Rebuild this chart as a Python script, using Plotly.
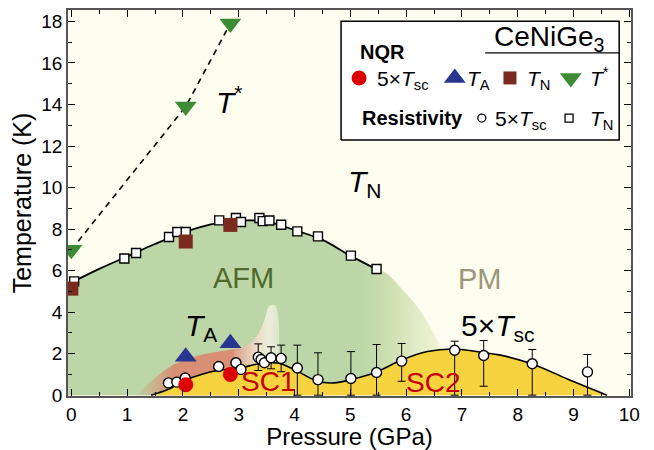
import plotly.graph_objects as go

# ---------------- data ----------------
# Resistivity T_N (open squares)
res_tn_p = [0.05, 0.95, 1.16, 1.75, 1.90, 2.05, 2.65, 2.95, 3.04, 3.37, 3.43, 3.55, 3.76, 4.05, 4.42, 5.01, 5.47]
res_tn_t = [5.48, 6.58, 6.85, 7.62, 7.86, 7.86, 8.42, 8.53, 8.34, 8.53, 8.38, 8.41, 8.21, 7.89, 7.65, 6.72, 6.08]

# Resistivity 5 x Tsc (open circles) with asymmetric error bars
res_tsc_p = [1.74, 1.89, 2.04, 2.64, 2.95, 3.04, 3.35, 3.40, 3.46, 3.58, 3.76, 4.05, 4.42, 5.01, 5.47, 5.92, 6.87, 7.39, 8.26, 9.25]
res_tsc_t = [0.59, 0.63, 0.83, 1.38, 1.56, 1.24, 1.83, 1.72, 1.56, 1.80, 1.77, 1.31, 0.75, 0.80, 1.09, 1.64, 2.16, 1.91, 1.51, 1.12]
res_tsc_up = [0, 0, 0, 0.1, 0, 0, 0.64, 0, 0, 0.53, 0.64, 1.10, 1.29, 1.30, 1.35, 0.85, 0.44, 0.72, 0.69, 0.84]
res_tsc_dn = [0, 0, 0, 0.1, 0, 0, 0.64, 0, 0, 0.53, 0.64, 1.31, 0.75, 0.80, 1.09, 0.97, 2.16, 1.48, 1.51, 1.12]

# NQR
nqr_tsc_p = [2.05, 2.85]
nqr_tsc_t = [0.5, 1.0]
nqr_ta_p = [2.05, 2.85]
nqr_ta_t = [1.85, 2.5]
nqr_tn_p = [0.0, 2.05, 2.85]
nqr_tn_t = [5.13, 7.4, 8.2]
nqr_tstar_p = [0.0, 2.05, 2.85]
nqr_tstar_t = [7.0, 13.9, 17.9]

# Guide curves / region boundaries
tn_curve_p = [0.0, 0.5, 1.0, 1.5, 2.0, 2.5, 3.0, 3.5, 4.0, 4.5, 5.0, 5.47]
tn_curve_t = [5.42, 6.08, 6.68, 7.28, 7.82, 8.22, 8.41, 8.36, 7.95, 7.48, 6.72, 6.06]
afm_edge_p = [5.64, 5.96, 6.26, 6.47, 6.62, 6.72]
afm_edge_t = [5.88, 5.0, 4.04, 3.08, 2.28, 1.2]
ta_region_p = [1.15, 1.4, 1.6, 1.8, 2.0, 2.3, 2.6, 2.95]
ta_region_t = [0.0, 0.6, 1.05, 1.42, 1.66, 1.92, 2.08, 2.22]
stripe_p = [2.92, 3.1, 3.25, 3.38, 3.47, 3.55, 3.66, 3.68]
stripe_t = [2.2, 2.35, 2.6, 3.1, 3.7, 4.3, 4.3, 0.0]
sc_curve_p = [1.43, 1.73, 2.06, 2.33, 2.62, 3.04, 3.31, 3.70, 4.05, 4.41, 4.71, 5.01, 5.47, 5.92, 6.38, 6.87, 7.39, 7.69, 8.26, 8.89, 9.6]
sc_curve_t = [0.0, 0.27, 0.75, 1.0, 1.19, 1.31, 1.49, 1.55, 1.15, 0.67, 0.59, 0.75, 1.12, 1.69, 2.1, 2.22, 2.05, 1.93, 1.5, 0.78, 0.0]

# ---------------- styles ----------------
FONT = "Liberation Sans, Arial, Helvetica, sans-serif"
BG = "#fdfdf0"
GREEN = "rgb(188,214,168)"
SALMON = "rgb(216,143,116)"
YELLOW = "rgb(247,211,64)"
RED = "#dd0000"
BLUE = "#283591"
BROWN = "#7a2a1e"
TGREEN = "#3d8c33"

fig = go.Figure()

# AFM region (green, fading out to the right)
fig.add_trace(go.Scatter(
    x=[-0.1] + tn_curve_p + afm_edge_p + [6.75],
    y=[tn_curve_t[0] - 0.1] + tn_curve_t + afm_edge_t + [0.0],
    mode="lines", line=dict(width=0, shape="spline"),
    fill="tozeroy", fillcolor=GREEN,
    fillgradient=dict(type="horizontal", start=5.2, stop=6.7,
                      colorscale=[[0, GREEN], [0.35, "rgb(206,224,178)"], [1, "rgb(246,246,220)"]]),
    hoverinfo="skip"))

# T_A region (salmon)
fig.add_trace(go.Scatter(
    x=ta_region_p, y=ta_region_t, mode="lines", line=dict(width=0, shape="spline"),
    fill="tozeroy", fillcolor=SALMON,
    fillgradient=dict(type="horizontal", start=1.15, stop=2.95,
                      colorscale=[[0, GREEN], [0.38, SALMON], [1, SALMON]]),
    hoverinfo="skip"))

# pale stripe
fig.add_trace(go.Scatter(
    x=stripe_p, y=stripe_t, mode="lines", line=dict(width=0, shape="spline"),
    fill="tozeroy", fillcolor="rgb(235,225,205)",
    fillgradient=dict(type="horizontal", start=2.92, stop=3.68,
                      colorscale=[[0, "rgb(220,160,132)"], [0.45, "rgb(234,214,194)"],
                                  [0.8, "rgb(236,238,218)"], [1, "rgb(222,234,206)"]]),
    hoverinfo="skip"))

# SC dome (yellow) with black boundary
fig.add_trace(go.Scatter(
    x=sc_curve_p, y=sc_curve_t, mode="lines",
    line=dict(color="black", width=1.6, shape="spline"),
    fill="tozeroy", fillcolor=YELLOW, hoverinfo="skip"))

# T_N guide line
fig.add_trace(go.Scatter(
    x=tn_curve_p, y=tn_curve_t, mode="lines",
    line=dict(color="black", width=1.8, shape="spline"), hoverinfo="skip"))

# T* dashed line
fig.add_trace(go.Scatter(
    x=nqr_tstar_p, y=nqr_tstar_t, mode="lines",
    line=dict(color="black", width=1.6, dash="6px,5px"), hoverinfo="skip"))

# Resistivity markers
fig.add_trace(go.Scatter(
    x=res_tsc_p, y=res_tsc_t, mode="markers",
    marker=dict(symbol="circle", size=10, color="white", line=dict(color="black", width=1.4)),
    error_y=dict(type="data", symmetric=False, array=res_tsc_up, arrayminus=res_tsc_dn,
                 color="black", thickness=1, width=4)))
fig.add_trace(go.Scatter(
    x=res_tn_p, y=res_tn_t, mode="markers",
    marker=dict(symbol="square", size=9, color="white", line=dict(color="black", width=1.4))))

# NQR markers
fig.add_trace(go.Scatter(x=nqr_tsc_p, y=nqr_tsc_t, mode="markers",
                         marker=dict(symbol="circle", size=15, color=RED)))
fig.add_trace(go.Scatter(x=nqr_ta_p, y=nqr_ta_t, mode="markers",
                         marker=dict(symbol="triangle-up", size=19, color=BLUE)))
fig.add_trace(go.Scatter(x=nqr_tn_p, y=nqr_tn_t, mode="markers",
                         marker=dict(symbol="square", size=14, color=BROWN)))
fig.add_trace(go.Scatter(x=nqr_tstar_p, y=nqr_tstar_t, mode="markers",
                         marker=dict(symbol="triangle-down", size=19, color=TGREEN)))

# ---------------- legend box (overlay axes spanning the plot area, range [0,1]) ----------------
box_x = [0.485, 0.979, 0.979, 0.485, 0.485]
box_y = [0.663, 0.663, 0.971, 0.971, 0.663]
fig.add_trace(go.Scatter(
    x=box_x, y=box_y, xaxis="x2", yaxis="y2", mode="lines",
    line=dict(color="black", width=1.5), fill="toself", fillcolor="white", hoverinfo="skip"))
fig.add_trace(go.Scatter(
    x=[0.741, 0.979], y=[0.889, 0.889], xaxis="x2", yaxis="y2", mode="lines",
    line=dict(color="black", width=1.2), hoverinfo="skip"))

leg_sym_x = [0.517, 0.687, 0.785, 0.893, 0.735, 0.890]
leg_sym_y = [0.824, 0.824, 0.824, 0.824, 0.720, 0.720]
leg_sym = ["circle", "triangle-up", "square", "triangle-down", "circle", "square"]
leg_col = [RED, BLUE, BROWN, TGREEN, "white", "white"]
leg_size = [15, 19, 13, 19, 8, 8]
leg_line = [RED, BLUE, BROWN, TGREEN, "black", "black"]
leg_lw = [0, 0, 0, 0, 1.3, 1.3]

fig.add_trace(go.Scatter(
    x=leg_sym_x, y=leg_sym_y, xaxis="x2", yaxis="y2", mode="markers",
    marker=dict(symbol=leg_sym, color=leg_col, size=leg_size, opacity=1,
                line=dict(color=leg_line, width=leg_lw)), hoverinfo="skip"))

TSC = "5×<i>T</i><sub>sc</sub>"
ann = []
def A(x, y, text, size, ref="paper", xa="left", color="black", ya="middle"):
    ann.append(dict(x=x, y=y, xref=ref if ref == "paper" else "x", yref=ref if ref == "paper" else "y",
                    text=text, showarrow=False, xanchor=xa, yanchor=ya,
                    font=dict(family=FONT, size=size, color=color)))

# legend texts
A(0.856, 0.925, "CeNiGe<sub>3</sub>", 28, xa="center")
A(0.558, 0.891, "<b>NQR</b>", 20, xa="center")
A(0.545, 0.818, TSC, 21)
A(0.705, 0.818, "<i>T</i><sub>A</sub>", 21)
A(0.812, 0.818, "<i>T</i><sub>N</sub>", 21)
A(0.924, 0.826, "<i>T</i><sup>*</sup>", 21)
A(0.519, 0.720, "<b>Resistivity</b>", 20)
A(0.755, 0.714, TSC, 21)
A(0.924, 0.714, "<i>T</i><sub>N</sub>", 21)

# in-plot labels (data coordinates)
A(2.56, 14.2, "<i>T</i><sup>*</sup>", 30, ref="data")
A(4.92, 10.2, "<i>T</i><sub>N</sub>", 30, ref="data")
A(3.09, 5.65, "AFM", 29, ref="data", xa="center", color="#4f6a2c")
A(7.33, 5.6, "PM", 29, ref="data", xa="center", color="#9a9678")
A(6.94, 3.25, TSC, 30, ref="data")
A(2.0, 3.25, "<i>T</i><sub>A</sub>", 30, ref="data")
A(3.52, 0.68, "SC1", 28, ref="data", xa="center", color="#c40000")
A(6.48, 0.63, "SC2", 28, ref="data", xa="center", color="#c40000")

axis_common = dict(showline=True, linecolor="#555555", linewidth=1.5, mirror="ticks",
                   ticks="inside", ticklen=7, tickwidth=1.2, tickcolor="black",
                   showgrid=False, zeroline=False, automargin=False,
                   tickfont=dict(family=FONT, size=19, color="black"))

fig.update_layout(
    width=654, height=450,
    margin=dict(l=68, r=23, t=10, b=54),
    paper_bgcolor="white", plot_bgcolor=BG,
    showlegend=False,
    font=dict(family=FONT, color="black"),
    xaxis=dict(range=[-0.06, 10.03], tick0=0, dtick=1,
               minor=dict(dtick=0.5, ticklen=4, ticks="inside", tickcolor="black", tickwidth=1),
               title=dict(text="Pressure (GPa)", font=dict(family=FONT, size=24), standoff=12),
               **axis_common),
    yaxis=dict(range=[-0.04, 18.55], tick0=0, dtick=2,
               minor=dict(dtick=1, ticklen=4, ticks="inside", tickcolor="black", tickwidth=1),
               title=dict(text="Temperature (K)", font=dict(family=FONT, size=25), standoff=3),
               **axis_common),
    xaxis2=dict(range=[0, 1], overlaying="x", visible=False, domain=[0, 1]),
    yaxis2=dict(range=[0, 1], overlaying="y", visible=False, domain=[0, 1]),
    annotations=ann,
)

fig.write_html("out.html")
